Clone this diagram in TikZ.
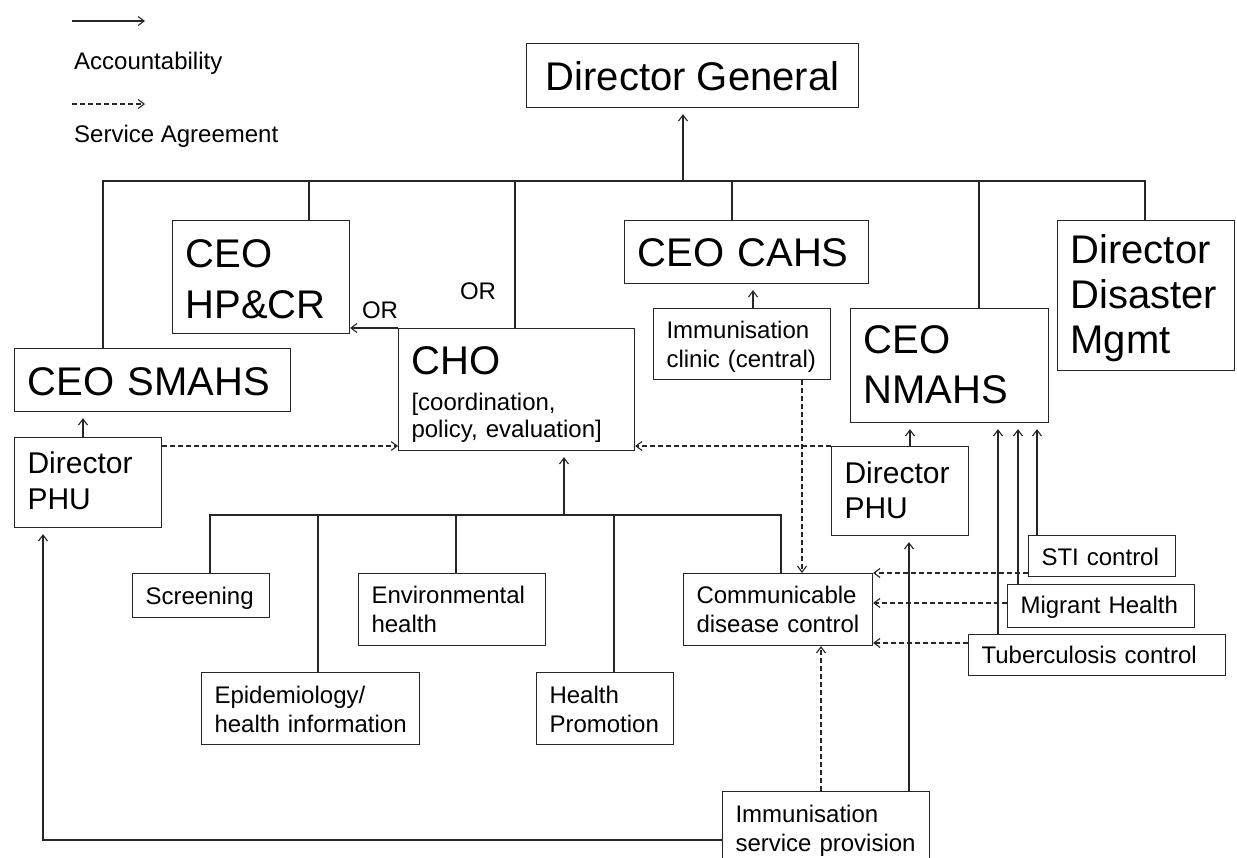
\documentclass[tikz,border=0pt]{standalone}
\usepackage{fontspec}
\setmainfont{Liberation Sans}
\usetikzlibrary{arrows.meta,calc}
\hyphenpenalty=10000
\exhyphenpenalty=10000

\begin{document}
\begin{tikzpicture}[
    x=1pt, y=-1pt,
    every node/.style={inner sep=0pt},
    >={Straight Barb[length=6pt,width=9pt]},
    wire/.style={draw=black!85, line width=1.1pt},
    acc/.style={wire, ->, shorten >=6pt},
    sa/.style={wire, ->, dash pattern=on 5pt off 3pt},
    box/.style={wire, anchor=north west, align=left, inner xsep=13pt},
    bigbox/.style={box, font=\fontsize{40}{50}\selectfont},
    midbox/.style={box, font=\fontsize{30}{36}\selectfont},
    smallbox/.style={box, font=\fontsize{24}{29}\selectfont},
    lbl/.style={font=\fontsize{24}{29}\selectfont}
]
\useasboundingbox (0,0) rectangle (1237,857);
\clip (0,0) rectangle (1237,857);

% Leyenda
\coordinate (accA) at (72,21);
\coordinate (accB) at (145,21);
\draw[wire,->] (accA) -- (accB);
\node[lbl, anchor=west] (acclbl) at (74,63) {Accountability};
\coordinate (saA) at (72,104);
\coordinate (saB) at (145,104);
\draw[sa] (saA) -- (saB);
\node[lbl, anchor=west] (salbl) at (74,136) {Service Agreement};

% Fila superior
\node[bigbox, align=center, minimum width=332pt, text height=47pt, text depth=17pt] (DG)
    at (526,43) {Director General};

\node[bigbox, minimum width=177pt, text width=151pt, text height=47pt, text depth=66pt,
      font=\fontsize{40}{51}\selectfont] (HPCR)
    at (172,220) {CEO\\HP\&CR};
\node[bigbox, minimum width=244pt, text width=218pt, text height=46pt, text depth=17pt] (CAHS)
    at (624,220) {CEO~CAHS};
\node[bigbox, minimum width=177pt, text width=151pt, text height=43pt, text depth=107pt,
      font=\fontsize{40}{45}\selectfont] (DDM)
    at (1057,220) {Director\\Disaster\\Mgmt};
\node[smallbox, minimum width=177pt, text width=151pt, text height=30pt, text depth=41pt] (clinic)
    at (653,308) {Immunisation\\clinic~(central)};
\node[bigbox, minimum width=198pt, text width=172pt, text height=45pt, text depth=69pt] (NMAHS)
    at (850,308) {CEO\\NMAHS};
\node[smallbox, minimum width=236pt, text width=210pt, text height=46pt, text depth=76pt,
      font=\fontsize{24}{27}\selectfont] (CHO)
    at (398,328) {{\fontsize{40}{40}\selectfont CHO}\\[9pt]{[}coordination,\\policy,~evaluation]};
\node[bigbox, minimum width=276pt, text width=250pt, text height=47pt, text depth=16pt] (SMAHS)
    at (14,348) {CEO~SMAHS};

\node[lbl] (or1) at (380,310) {OR};
\node[lbl] (or2) at (478,291) {OR};

% Directores PHU
\node[midbox, minimum width=147pt, text width=121pt, text height=36pt, text depth=54pt] (PHUw)
    at (14,437) {Director\\PHU};
\node[midbox, minimum width=137pt, text width=111pt, text height=37pt, text depth=52pt,
      font=\fontsize{30}{35}\selectfont] (PHUe)
    at (831,446) {Director\\PHU};

% Servicios
\node[smallbox, minimum width=137pt, text width=111pt, text height=31pt, text depth=13pt] (screen)
    at (132,573) {Screening};
\node[smallbox, minimum width=187pt, text width=161pt, text height=30pt, text depth=42pt] (env)
    at (358,573) {Environmental\\health};
\node[smallbox, minimum width=189pt, text width=163pt, text height=30pt, text depth=42pt] (cdc)
    at (683,573) {Communicable\\disease~control};
\node[smallbox, minimum width=218pt, text width=192pt, text height=31pt, text depth=41pt] (epi)
    at (201,672) {Epidemiology/\\health~information};
\node[smallbox, minimum width=137pt, text width=111pt, text height=31pt, text depth=41pt] (hprom)
    at (536,672) {Health\\Promotion};
\node[smallbox, minimum width=147pt, text width=121pt, text height=30pt, text depth=11pt] (sti)
    at (1028,535) {STI~control};
\node[smallbox, minimum width=187pt, text width=161pt, text height=29pt, text depth=14pt] (migrant)
    at (1007,584) {Migrant~Health};
\node[smallbox, minimum width=257pt, text width=231pt, text height=29pt, text depth=12pt] (tb)
    at (968,634) {Tuberculosis~control};
\node[smallbox, minimum width=207pt, text width=181pt, text height=31pt, text depth=49pt] (immsvc)
    at (722,791) {Immunisation\\service~provision};

% Bus principal
\coordinate (dgfoot) at (683,181);
\draw[acc] (dgfoot) -- (dgfoot |- DG.south);
\coordinate (busW) at (103,181);
\coordinate (busE) at (1145,181);
\draw[wire] (busW |- SMAHS.north) -- (busW) -- (busE) -- (busE |- DDM.north);
\foreach \x/\n in {309/HPCR, 515/CHO, 732/CAHS, 979/NMAHS}
    \draw[wire] (\x,181) -- (\x,181 |- \n.north);

% OR: CHO hacia HP&CR
\draw[wire,->] (CHO.north west) -- (CHO.north west -| HPCR.east);

% Rama de servicios del CHO
\coordinate (brW) at (210,515);
\coordinate (brE) at (781,515);
\draw[wire] (brW |- screen.north) -- (brW) -- (brE) -- (brE |- cdc.north);
\foreach \x/\n in {318/epi, 456/env, 614/hprom}
    \draw[wire] (\x,515) -- (\x,515 |- \n.north);
\draw[acc] (564,515) -- (564,515 |- CHO.south);

% Flechas de rendicion de cuentas
\draw[acc] (PHUw.north -| 83,0) -- (SMAHS.south -| 83,0);
\draw[acc] (clinic.north -| 753,0) -- (CAHS.south -| 753,0);
\draw[acc] (PHUe.north -| 910,0) -- (NMAHS.south -| 910,0);
\draw[acc] (tb.north -| 998,0) -- (NMAHS.south -| 998,0);
\draw[acc] (migrant.north -| 1018,0) -- (NMAHS.south -| 1018,0);
\draw[acc] (sti.north -| 1037,0) -- (NMAHS.south -| 1037,0);
\draw[acc] (immsvc.north -| 909,0) -- (PHUe.south -| 909,0);
\draw[acc] (immsvc.west |- 0,840) -- (43,840) -- (PHUw.south -| 43,0);

% Acuerdos de servicio
\draw[sa] (PHUw.east |- 0,446) -- (CHO.west |- 0,446);
\draw[sa] (PHUe.north west) -- (PHUe.north west -| CHO.east);
\draw[sa] (clinic.south -| 802,0) -- (cdc.north -| 802,0);
\draw[sa] (sti.west |- 0,573) -- (cdc.east |- 0,573);
\draw[sa] (migrant.west |- 0,603) -- (cdc.east |- 0,603);
\draw[sa] (tb.west |- 0,643) -- (cdc.east |- 0,643);
\draw[sa] (immsvc.north -| 821,0) -- (cdc.south -| 821,0);

\end{tikzpicture}
\end{document}
